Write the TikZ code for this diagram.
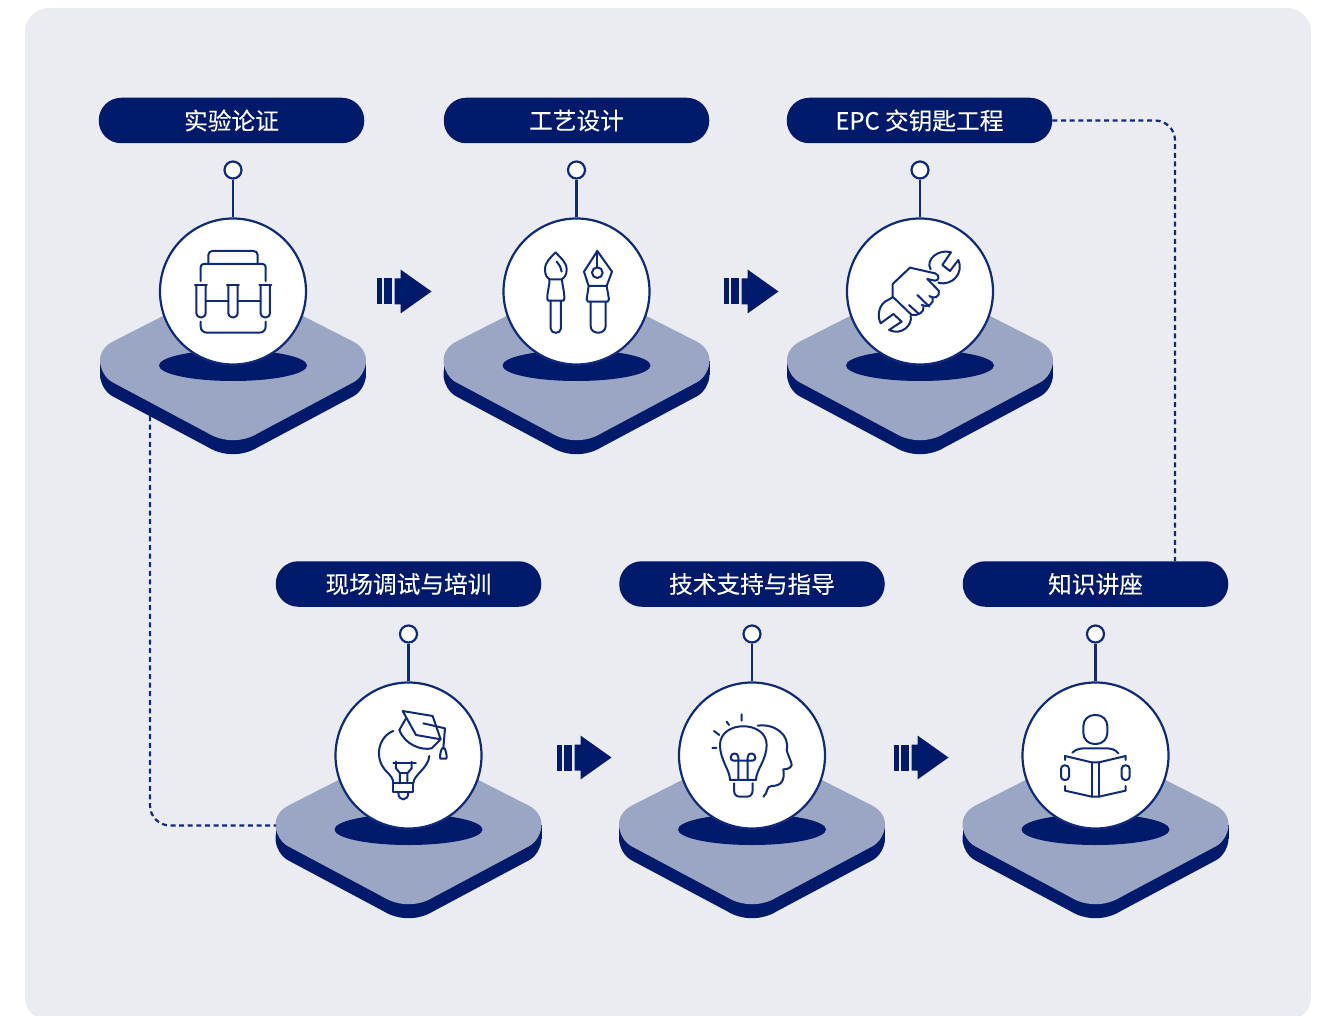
\documentclass[tikz,border=0pt]{standalone}
\usepackage{fontspec}
\usetikzlibrary{backgrounds}
\newfontfamily\cjk[FakeBold=0.2]{Noto Sans CJK SC}

\definecolor{navy}{HTML}{001A6B}
\definecolor{inkline}{HTML}{0F2A78}
\definecolor{slab}{HTML}{9BA6C4}
\definecolor{paper}{HTML}{EBECF2}

% outline of one slab, relative to the disc centre
\newcommand{\slabpath}{(-120,50) .. controls (-128,54) and (-133,61) .. (-133,69)
    .. controls (-133,77) and (-128,87) .. (-120,91) -- (-25,141.7)
    .. controls (-10,151) and (10,151) .. (25,141.7) -- (120,91)
    .. controls (128,87) and (133,77) .. (133,69)
    .. controls (133,61) and (128,54) .. (120,50) -- (12,-5)
    .. controls (5,-9) and (-5,-9) .. (-12,-5) -- cycle}

\tikzset{
    disc/.style = {circle, draw=inkline, fill=white, line width=2.2pt, minimum size=146pt, inner sep=0pt},
    pin/.style = {circle, draw=inkline, fill=white, line width=2.2pt, minimum size=17pt, inner sep=0pt},
    pill/.style = {rectangle, rounded corners=22.5pt, fill=navy, text=white, minimum width=265.5pt,
        minimum height=45.5pt, inner sep=0pt, font=\cjk\fontsize{23.7}{28}\selectfont},
    pinline/.style = {draw=inkline, line width=2.2pt},
    linkline/.style = {draw=inkline, line width=2.2pt, rounded corners=20pt, dash pattern=on 5pt off 3.6pt},
    iconline/.style = {draw=inkline, line width=2pt, line cap=round, line join=round},
    icon/.style = {x=.3333pt, y=-.3333pt, iconline},
}

\begin{document}
\begin{tikzpicture}[
            x = 1pt,
            y = -1pt,
            node distance = 343.5pt % distance between discs
        ]

    \useasboundingbox (0,0) rectangle (1325,1016);
    \clip (0,0) rectangle (1325,1016);

    % discs
    \node[disc] (trial) at (233,291.5) {};
    \node[disc] (craft) [right of=trial] {};
    \node[disc] (epc) [right of=craft] {};
    \node[disc] (train) at (408.5,755.5) {};
    \node[disc] (guide) [right of=train] {};
    \node[disc] (talk) [right of=guide] {};

    % pins
    \foreach \n in {trial,craft,epc,train,guide,talk} {
        \node[pin] (pin\n) [above of=\n, node distance=121.5pt] {};
        \draw[pinline] (pin\n) -- (\n);
    }

    % labels
    \node[pill] (trialbox) [above of=trial, node distance=171pt, xshift=-1.5pt] {实验论证};
    \node[pill] (craftbox) [above of=craft, node distance=171pt] {工艺设计};
    \node[pill] (epcbox) [above of=epc, node distance=171pt, xshift=-.5pt] {EPC 交钥匙工程};
    \node[pill] (trainbox) [above of=train, node distance=171.5pt] {现场调试与培训};
    \node[pill] (guidebox) [above of=guide, node distance=171.5pt] {技术支持与指导};
    \node[pill] (talkbox) [above of=talk, node distance=171.5pt] {知识讲座};

    % slabs and shadows
    \begin{scope}[on background layer]
        \fill[paper, rounded corners=24pt] (25,8) rectangle (1311,1021);
        \foreach \n in {trial,craft,epc,train,guide,talk} {
            \begin{scope}[shift={(\n)}]
                \fill[navy, shift={(0,14)}] \slabpath;
                \fill[navy] (-133,69) rectangle (133,83);
                \fill[slab] \slabpath;
                \fill[navy] (0,74) ellipse [x radius=74, y radius=15.5];
            \end{scope}
        }
    \end{scope}

    % block arrows
    \foreach \ax/\ay in {376.5/291.5,723.5/291.5,556.5/757.5,893.5/757.5} {
        \begin{scope}[shift={(\ax,\ay)}]
            \fill[navy] (0,-13) rectangle (5,13);
            \fill[navy] (7,-13) rectangle (15,13);
            \fill[navy] (18,-13) -- (24,-13) -- (24,-22) -- (55,0) -- (24,22) -- (24,13) -- (18,13) -- cycle;
        \end{scope}
    }

    % dashed links
    \coordinate (upturn) at (1175,561);
    \coordinate (slabfoot) at (150,416);
    \coordinate (slabside) at (276,825.5);
    \draw[linkline] (epcbox.east) -| (upturn);
    \draw[linkline] (slabfoot) |- (slabside);

    % backpack
    \begin{scope}[shift={(90,150)}, icon]
        \draw[rounded corners=4pt] (355,340) -- (355,303) -- (503,303) -- (503,340);
        \draw[rounded corners=3pt] (332,393) -- (332,342) -- (527,342) -- (527,393);
        \draw[rounded corners=6pt] (332,515) -- (332,548) -- (527,548) -- (527,515);
        \foreach \tx in {333,429,526} {
            \draw (\tx-18,405) -- (\tx+18,405);
            \draw[rounded corners=4pt] (\tx-14,405) -- (\tx-14,502) -- (\tx+14,502) -- (\tx+14,405);
        }
        \draw (347,453) -- (415,453) (443,453) -- (512,453);
    \end{scope}

    % brush and pen
    \begin{scope}[shift={(490,210)}, icon]
        \draw (197,127) .. controls (180,145) and (165,155) .. (165,180)
            .. controls (165,195) and (172,205) .. (180,208) -- (214,208)
            .. controls (222,205) and (230,195) .. (230,180)
            .. controls (230,155) and (212,145) .. (197,127);
        \draw (200,155) .. controls (208,162) and (212,172) .. (215,185);
        \draw (178,208) .. controls (180,225) and (172,240) .. (172,265) -- (174,272) -- (221,272) -- (223,265)
            .. controls (223,240) and (216,225) .. (216,208);
        \draw (182,272) -- (182,355) .. controls (182,373) and (213,373) .. (213,355) -- (213,272);
        \draw (322,123) -- (282,185) -- (296,228) -- (350,228) -- (366,185) -- cycle;
        \draw (322,123) -- (322,173);
        \draw (322,188) circle [radius=16];
        \draw (296,228) -- (290,268) -- (294,275) -- (353,275) -- (357,268) -- (350,228);
        \draw (302,275) -- (302,348) .. controls (302,375) and (347,375) .. (347,348) -- (347,275);
    \end{scope}

    % hand and wrench
    \begin{scope}[shift={(840,210)}, icon]
        \draw (272,178) .. controls (255,150) and (295,115) .. (333,127) -- (307,165) -- (330,183) -- (355,150)
            .. controls (372,185) and (340,230) .. (295,218);
        \draw (210,173) -- (285,190) .. controls (300,195) and (298,212) .. (285,212) -- (262,207);
        \draw (210,173) -- (158,222) -- (158,260) -- (215,315);
        \draw (262,207) -- (297,243) .. controls (300,262) and (280,268) .. (268,258);
        \draw (232,255) -- (268,290);
        \draw (278,262) .. controls (285,280) and (262,295) .. (245,285);
        \draw (207,285) -- (237,312);
        \draw (250,290) .. controls (255,305) and (235,318) .. (215,315);
        \draw (158,262) -- (135,275) .. controls (115,290) and (112,320) .. (122,340) -- (160,312) -- (185,335) -- (147,360)
            .. controls (185,378) and (218,345) .. (212,318);
    \end{scope}

    % bulb and cap
    \begin{scope}[shift={(330,680)}, icon]
        \draw (218,93) -- (308,108) -- (332,178) -- (258,165) -- cycle;
        \draw (280,130) -- (345,145) -- (340,205);
        \draw (336,205) .. controls (330,220) and (328,235) .. (332,236) -- (348,236) .. controls (352,235) and (350,220) .. (344,205) -- cycle;
        \draw (228,115) -- (208,150) .. controls (225,195) and (275,212) .. (305,205) -- (330,180);
        \draw (190,153) .. controls (145,170) and (130,235) .. (170,275) .. controls (180,285) and (190,295) .. (190,310);
        \draw (298,228) .. controls (295,265) and (250,285) .. (250,310);
        \draw (190,310) -- (250,310) -- (250,335) -- (190,335) -- cycle;
        \draw (205,338) .. controls (205,365) and (235,365) .. (235,338);
        \draw (190,250) -- (258,250);
        \draw (198,245) -- (198,265) -- (210,280) -- (210,310);
        \draw (245,245) -- (245,265) -- (232,280) -- (232,310);
        \draw (210,280) -- (232,280);
    \end{scope}

    % bulb and head
    \begin{scope}[shift={(675,680)}, icon]
        \draw (165,300) .. controls (165,270) and (135,240) .. (135,195)
            .. controls (135,120) and (275,120) .. (275,195)
            .. controls (275,240) and (243,270) .. (243,300) -- cycle;
        \draw (177,310) -- (177,330) .. controls (177,345) and (185,350) .. (195,350) -- (215,350)
            .. controls (225,350) and (233,345) .. (233,330) -- (233,310);
        \draw (190,300) -- (190,232) .. controls (190,215) and (167,218) .. (167,232) .. controls (167,245) and (180,242) .. (190,242) -- (218,242)
            .. controls (228,242) and (241,245) .. (241,232) .. controls (241,218) and (218,215) .. (218,232) -- (218,300);
        \draw (200,103) -- (200,122) (155,125) -- (162,135) (117,153) -- (133,165) (112,204) -- (124,204);
        \draw (248,137) .. controls (300,130) and (345,165) .. (335,210)
            .. controls (338,225) and (350,245) .. (350,255) .. controls (348,265) and (335,268) .. (325,268)
            .. controls (330,300) and (320,318) .. (290,318) .. controls (272,318) and (280,340) .. (265,350);
    \end{scope}

    % reader
    \begin{scope}[shift={(1015,680)}, icon]
        \draw[rounded corners=11pt] (205,105) rectangle (277,192);
        \draw (172,218) .. controls (185,205) and (200,205) .. (215,205) -- (270,205) .. controls (290,205) and (300,208) .. (310,220);
        \draw (150,240) -- (150,228) -- (230,247) -- (252,247) -- (332,228) -- (332,240);
        \draw (150,318) -- (150,332) -- (230,350) -- (252,350) -- (332,332) -- (332,318);
        \draw (230,247) -- (230,350) (252,247) -- (252,350);
        \draw[rounded corners=3.5pt] (138,256) rectangle (162,300);
        \draw[rounded corners=3.5pt] (320,256) rectangle (344,300);
    \end{scope}

\end{tikzpicture}
\end{document}
